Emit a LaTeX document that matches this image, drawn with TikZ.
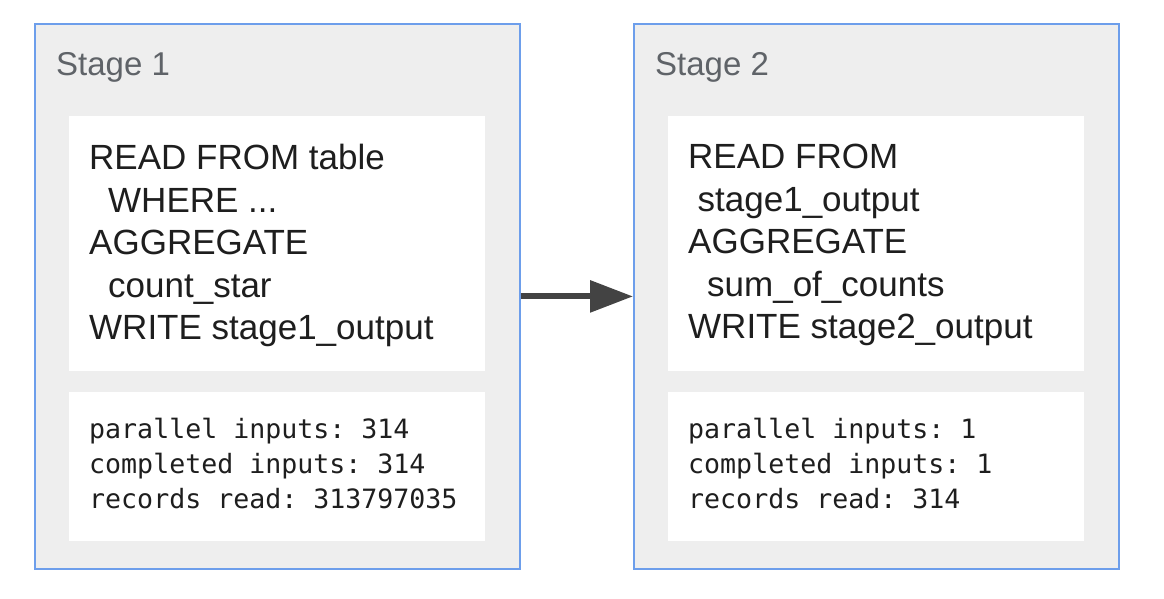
\documentclass[tikz,border=0pt]{standalone}
\usepackage{fontspec}
\setmainfont{Liberation Sans}
\setmonofont{DejaVu Sans Mono}
\usepackage{xcolor}
\usepackage{tikz}
\usetikzlibrary{arrows.meta}
\usetikzlibrary{positioning}

\definecolor{stageblue}{HTML}{6D9EEB}
\definecolor{stagefill}{HTML}{EEEEEE}
\definecolor{labelgrey}{HTML}{5F6368}
\definecolor{arrowgrey}{HTML}{434343}
\definecolor{textblack}{HTML}{1E1E1E}

\begin{document}
\begin{tikzpicture}[x=1pt, y=-1pt,
        stage/.style = {draw = stageblue, line width = 1.8pt, fill = stagefill,
            minimum width = 485pt, minimum height = 545pt, inner sep = 0pt, anchor = north west},
        panel/.style = {fill = white, minimum width = 416pt, inner sep = 0pt, anchor = north west},
        stagelabel/.style = {text = labelgrey, font = \fontsize{33}{40}\selectfont, inner sep = 0pt, anchor = north west},
        query/.style = {text = textblack, font = \fontsize{35}{42.5}\selectfont, align = left, inner sep = 0pt, anchor = north west},
        stats/.style = {text = textblack, font = \ttfamily\fontsize{26.6}{35}\selectfont, align = left, inner sep = 0pt, anchor = north west}]
        \useasboundingbox (0, 0) rectangle (1164, 598);

        % stage boxes
        \node[stage] (stage1) at (34, 23) {};
        \node[stage] (stage2) at (633, 23) {};

        \node[stagelabel] (label1) at (56, 52) {Stage 1};
        \node[stagelabel] (label2) at (655, 52) {Stage 2};

        % white panels
        \node[panel, minimum height = 255pt] (query1) at (69, 116) {};
        \node[panel, minimum height = 149pt] (stats1) at (69, 392) {};
        \node[panel, minimum height = 255pt] (query2) at (668, 116) {};
        \node[panel, minimum height = 149pt] (stats2) at (668, 392) {};

        \node[query] (text1) at (89, 144) {READ FROM table\\
            \hspace*{19pt}WHERE ...\\
            AGGREGATE\\
            \hspace*{19pt}count\_star\\
            WRITE stage1\_output};
        \node[query] (text2) at (688, 144) {READ FROM\\
            \hspace*{9.5pt}stage1\_output\\
            AGGREGATE\\
            \hspace*{19pt}sum\_of\_counts\\
            WRITE stage2\_output};

        \node[stats] (numbers1) at (89, 418) {parallel inputs: 314\\
            completed inputs: 314\\
            records read: 313797035};
        \node[stats] (numbers2) at (688, 418) {parallel inputs: 1\\
            completed inputs: 1\\
            records read: 314};

        % stage1 feeds stage2
        \draw[arrowgrey, line width = 6pt, -{Triangle[length = 43pt, width = 31pt]}] (stage1.east) -- (stage2.west);
\end{tikzpicture}
\end{document}
